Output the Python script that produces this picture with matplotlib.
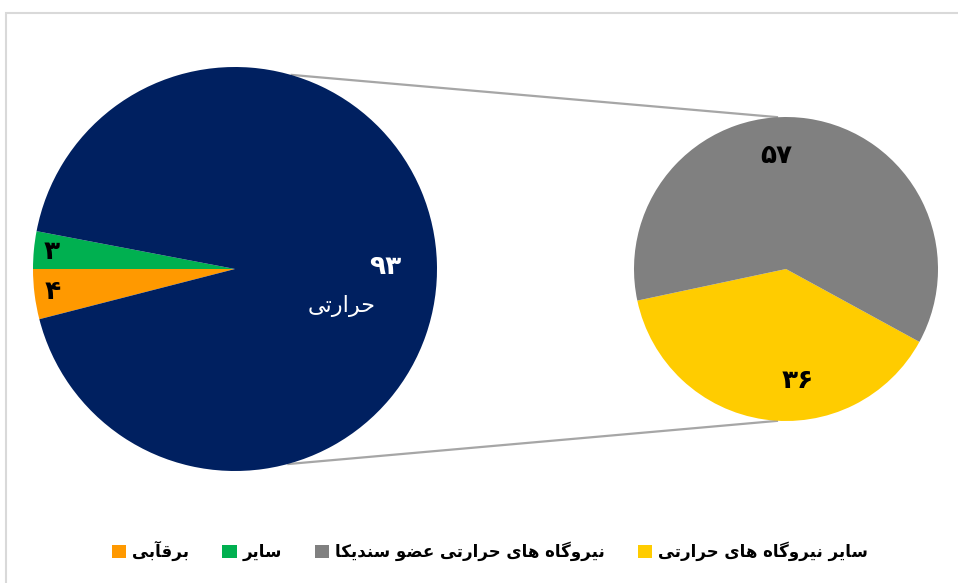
import numpy as np
import matplotlib
matplotlib.use("Agg")
import matplotlib.pyplot as plt
from matplotlib.patches import Patch, FancyBboxPatch

# ---------------- data ----------------
main_labels = ["سایر", "برقآبی", "حرارتی"]
main_values = [3, 4, 93]
main_colors = ["#00B050", "#FF9900", "#002060"]

sub_labels = ["سایر نیروگاه های حرارتی", "نیروگاه های حرارتی عضو سندیکا"]
sub_values = [36, 57]
sub_colors = ["#FFCC00", "#808080"]

legend_order = ["برقآبی", "سایر", "نیروگاه های حرارتی عضو سندیکا", "سایر نیروگاه های حرارتی"]
legend_colors = ["#FF9900", "#00B050", "#808080", "#FFCC00"]

# ---------------- minimal Persian shaping ----------------
FORMS = {  # iso, fin, ini, med
    "ا": ("\uFE8D", "\uFE8E", None, None),
    "آ": ("\uFE81", "\uFE82", None, None),
    "ب": ("\uFE8F", "\uFE90", "\uFE91", "\uFE92"),
    "ت": ("\uFE95", "\uFE96", "\uFE97", "\uFE98"),
    "ح": ("\uFEA1", "\uFEA2", "\uFEA3", "\uFEA4"),
    "د": ("\uFEA9", "\uFEAA", None, None),
    "ر": ("\uFEAD", "\uFEAE", None, None),
    "س": ("\uFEB1", "\uFEB2", "\uFEB3", "\uFEB4"),
    "ض": ("\uFEBD", "\uFEBE", "\uFEBF", "\uFEC0"),
    "ع": ("\uFEC9", "\uFECA", "\uFECB", "\uFECC"),
    "ق": ("\uFED5", "\uFED6", "\uFED7", "\uFED8"),
    "ن": ("\uFEE5", "\uFEE6", "\uFEE7", "\uFEE8"),
    "ه": ("\uFEE9", "\uFEEA", "\uFEEB", "\uFEEC"),
    "و": ("\uFEED", "\uFEEE", None, None),
    "ی": ("\uFBFC", "\uFBFD", "\uFBFE", "\uFBFF"),
    "ک": ("\uFB8E", "\uFB8F", "\uFB90", "\uFB91"),
    "گ": ("\uFB92", "\uFB93", "\uFB94", "\uFB95"),
}


def dual(c):
    return c in FORMS and FORMS[c][2] is not None


def shape(s):
    out = []
    for i, c in enumerate(s):
        if c not in FORMS:
            out.append(c)
            continue
        prev = s[i - 1] if i > 0 else ""
        nxt = s[i + 1] if i + 1 < len(s) else ""
        jp = dual(prev)
        jn = dual(c) and nxt in FORMS
        iso, fin, ini, med = FORMS[c]
        if jp and jn:
            out.append(med)
        elif jp:
            out.append(fin)
        elif jn:
            out.append(ini)
        else:
            out.append(iso)
    return "".join(out)[::-1]


def fa_num(n):
    return str(n).translate(str.maketrans("0123456789", "۰۱۲۳۴۵۶۷۸۹"))


# ---------------- figure ----------------
W, H = 958, 583
fig = plt.figure(figsize=(W / 100, H / 100), dpi=100)
ax = fig.add_axes([0, 0, 1, 1])
ax.set_xlim(0, W)
ax.set_ylim(0, H)
ax.axis("off")

FONT = ["DejaVu Sans"]

# chart frame (top and left edges visible)
ax.plot([6.5, 6.5, W + 5], [-5, H - 12.5, H - 12.5], color="#D9D9D9", lw=1.5,
        clip_on=False, solid_joinstyle="miter")

c1 = (235, H - 269)
r1 = 202
c2 = (786, H - 269)
r2 = 152

start1 = 180 - main_values[0] / sum(main_values) * 360
w1, _ = ax.pie(main_values, colors=main_colors, startangle=start1,
               center=c1, radius=r1, counterclock=True,
               wedgeprops=dict(linewidth=0))
w2, _ = ax.pie(sub_values, colors=sub_colors, startangle=-168,
               center=c2, radius=r2, counterclock=True,
               wedgeprops=dict(linewidth=0))
ax.set_xlim(0, W)
ax.set_ylim(0, H)
ax.set_aspect("equal")


def pt(c, r, ang):
    a = np.deg2rad(ang)
    return c[0] + r * np.cos(a), c[1] + r * np.sin(a)

# connector lines
for a1, a2 in [(74, 93), (-75, -93)]:
    p1 = pt(c1, r1, a1)
    p2 = pt(c2, r2, a2)
    ax.plot([p1[0], p2[0]], [p1[1], p2[1]], color="#A6A6A6", lw=1.6,
            solid_capstyle="butt", zorder=0.5)

# data labels on main pie
for w, v in zip(w1[:2], main_values[:2]):
    mid = (w.theta1 + w.theta2) / 2
    x, y = pt(c1, r1 * 0.91, mid)
    ax.text(x, y, fa_num(v), ha="center", va="center", fontsize=19,
            fontweight="bold", color="black", family=FONT)

ax.text(c1[0] + 150, c1[1] + 2, fa_num(main_values[2]), ha="center", va="center",
        fontsize=19, fontweight="bold", color="white", family=FONT)
ax.text(c1[0] + 107, c1[1] - 37, shape(main_labels[2]), ha="center", va="center",
        fontsize=16, color="white", family=FONT)

# labels on sub pie
ax.text(c2[0] - 10, c2[1] + 113, fa_num(sub_values[1]), ha="center", va="center",
        fontsize=19, fontweight="bold", color="black", family=FONT)
ax.text(c2[0] + 12, c2[1] - 112, fa_num(sub_values[0]), ha="center", va="center",
        fontsize=19, fontweight="bold", color="black", family=FONT)

# legend
handles = [Patch(facecolor=c, edgecolor="none") for c in legend_colors]
labels = [shape(s) for s in legend_order]
leg = ax.legend(handles, labels, loc="center", bbox_to_anchor=(490 / W, 1 - 551 / H),
                ncol=4, frameon=False, markerfirst=True,
                prop=dict(family=FONT, weight="bold", size=12),
                handlelength=0.85, handleheight=0.85, handletextpad=0.35,
                columnspacing=2.0)

fig.savefig("out.png", dpi=100)
